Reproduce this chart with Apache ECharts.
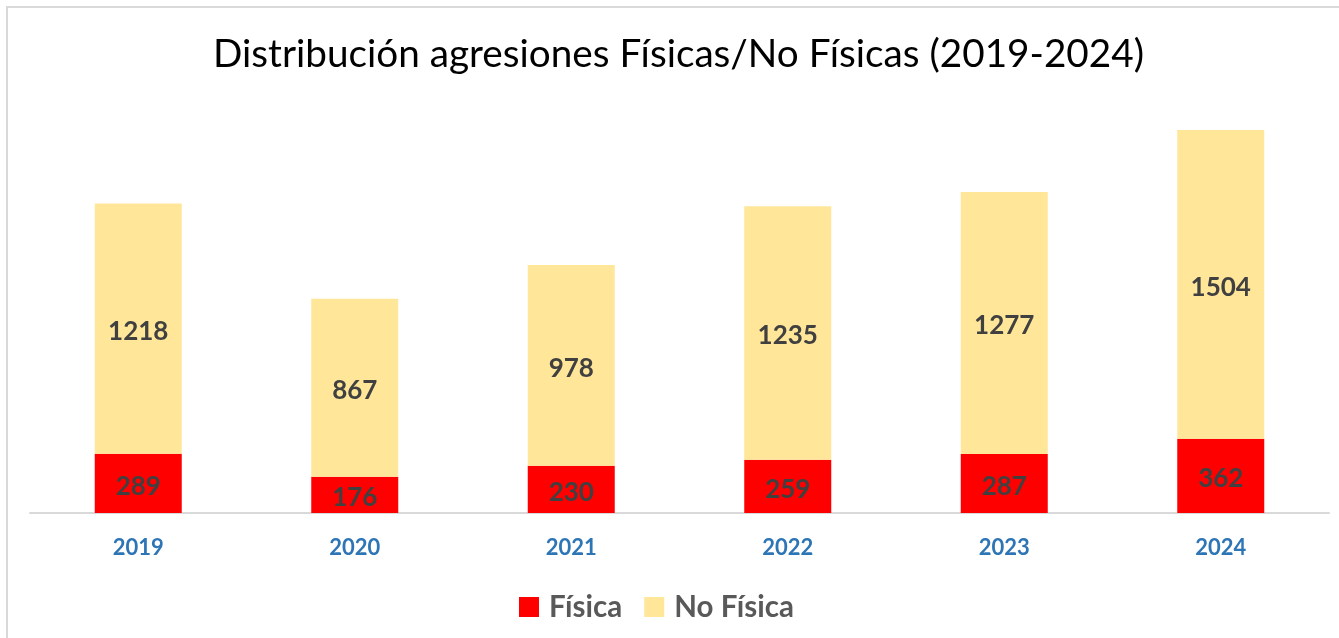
<!DOCTYPE html>
<html>
<head>
<meta charset="utf-8">
<script src="https://cdn.jsdelivr.net/npm/echarts@6/dist/echarts.min.js"></script>
<style>
html,body{margin:0;padding:0;background:#fff;}
#c{width:1339px;height:638px;}
</style>
</head>
<body>
<div id="c"></div>
<script>
const years = ['2019','2020','2021','2022','2023','2024'];
const fisica = [289,176,230,259,287,362];
const noFisica = [1218,867,978,1235,1277,1504];
const seriesNames = ['Física','No Física'];

const chart = echarts.init(document.getElementById('c'), null, {renderer:'canvas'});
const FONT = 'Lato, "Open Sans", sans-serif';
chart.setOption({
  animation:false,
  backgroundColor:'#fff',
  graphic:[{
    type:'rect', shape:{x:7,y:7,width:1345,height:645},
    style:{fill:'none',stroke:'#d9d9d9',lineWidth:2}, silent:true, z:-1
  }],
  title:{
    text:'Distribución agresiones Físicas/No Físicas (2019-2024)',
    left:208, top:30,
    textStyle:{fontFamily:FONT,fontWeight:'normal',fontSize:38.7,color:'#000'}
  },
  legend:{
    bottom:11, left:514, itemWidth:20, itemHeight:20, itemGap:22,
    icon:'rect',
    textStyle:{fontFamily:FONT,fontWeight:'bold',fontSize:29.5,color:'#595959',padding:[0,0,0,5]},
    data:seriesNames
  },
  grid:{left:30,right:10,top:102.4,bottom:125},
  xAxis:{
    type:'category', data:years,
    axisLine:{lineStyle:{color:'#d9d9d9',width:2}},
    axisTick:{show:false},
    axisLabel:{margin:24,fontFamily:FONT,fontWeight:'bold',fontSize:22,color:'#2E75B6'}
  },
  yAxis:{type:'value',min:0,max:2000,show:false,splitLine:{show:false}},
  series:[
    {name:seriesNames[0],type:'bar',stack:'t',data:fisica,barWidth:87,
     itemStyle:{color:'#FF0000'},
     label:{show:true,position:'inside',offset:[0,3],fontFamily:FONT,fontWeight:'bold',fontSize:26,color:'#404040'}},
    {name:seriesNames[1],type:'bar',stack:'t',data:noFisica,barWidth:87,
     itemStyle:{color:'#FFE699'},
     label:{show:true,position:'inside',offset:[0,3],fontFamily:FONT,fontWeight:'bold',fontSize:26,color:'#404040'}}
  ]
});
</script>
</body>
</html>
